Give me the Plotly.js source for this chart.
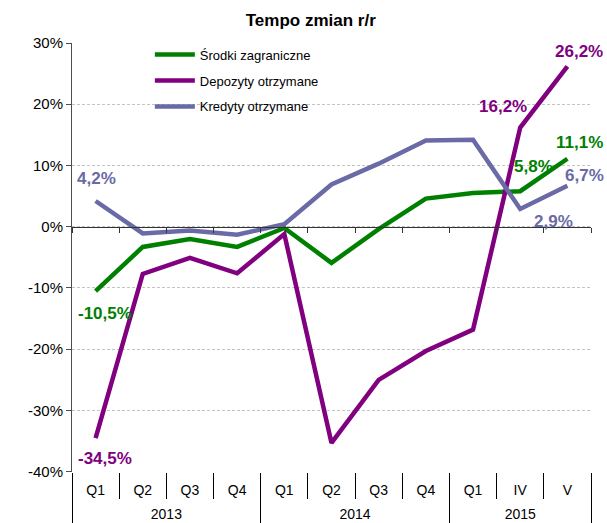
<!DOCTYPE html>
<html>
<head>
<meta charset="utf-8">
<script src="https://cdn.plot.ly/plotly-3.0.1.min.js"></script>
<style>html,body{margin:0;padding:0;background:#fff;}#chart{width:607px;height:523px;}</style>
</head>
<body>
<div id="chart"></div>
<script>
// ---- data ----
const years = ['2013','2013','2013','2013','2014','2014','2014','2014','2015','2015','2015'];
const periods = ['Q1','Q2','Q3','Q4','Q1','Q2','Q3','Q4','Q1','IV','V'];
const seriesNames = ['Środki zagraniczne', 'Depozyty otrzymane', 'Kredyty otrzymane'];
const srodki   = [-10.5, -3.3, -2.0, -3.3, -0.2, -5.9, -0.4, 4.6, 5.5, 5.8, 11.1];
const depozyty = [-34.5, -7.7, -5.1, -7.6, -1.2, -35.3, -25.0, -20.3, -16.8, 16.2, 26.2];
const kredyty  = [4.2, -1.1, -0.6, -1.3, 0.4, 6.9, 10.3, 14.1, 14.2, 2.9, 6.7];
const yTickVals = [-40, -30, -20, -10, 0, 10, 20, 30];
const yTickText = ['-40%', '-30%', '-20%', '-10%', '0%', '10%', '20%', '30%'];

// ---- style ----
const colors = ['#008000', '#800080', '#6a6aa6'];
const FONT = 'Liberation Sans, Arial, sans-serif';
const values = [srodki, depozyty, kredyty];

// labelled points: [series, point index, xshift, yshift]
const labelSpecs = [
  [0, 0, 9, -22], [1, 0, 9, -20], [2, 0, 1, 23],
  [1, 9, -17, 21], [1, 10, 12, 15],
  [0, 9, 13, 25], [0, 10, 12, 16],
  [2, 9, 33, -13], [2, 10, 17, 10]
];

const traces = values.map((v, s) => ({
  type: 'scatter', mode: 'lines',
  x: [years, periods], y: v,
  name: seriesNames[s], legendgroup: 'g' + s,
  line: {color: colors[s], width: 4.5},
  hoverinfo: 'skip'
}));
// empty helper traces so that the decorative overlay axes get drawn
['x2', 'x3', 'x4', 'x5', 'x6'].forEach(ax => traces.push({
  type: 'scatter', mode: 'none', x: [], y: [], xaxis: ax, yaxis: 'y',
  showlegend: false, hoverinfo: 'skip'
}));

const n = periods.length;
const boundaries = [];
for (let i = 0; i <= n; i++) boundaries.push(i - 0.5);
const periodPos = periods.map((_, i) => i);
// year groups derived from the years array
const yearNames = [], yearSpans = [], yearBounds = [-0.5];
years.forEach((y, i) => {
  if (i === 0 || years[i - 1] !== y) { yearNames.push(y); yearSpans.push([i, i]); }
  else yearSpans[yearSpans.length - 1][1] = i;
  if (i === n - 1 || years[i + 1] !== y) yearBounds.push(i + 0.5);
});
const yearMid = yearSpans.map(([a, b]) => (a + b) / 2);

const fmt = v => v.toFixed(1).replace('.', ',') + '%';
const annotations = labelSpecs.map(([s, i, dx, dy]) => ({
  x: i, y: values[s][i], xref: 'x', yref: 'y',
  text: '<b>' + fmt(values[s][i]) + '</b>',
  showarrow: false, xshift: dx, yshift: dy,
  xanchor: 'center', yanchor: 'middle',
  font: {family: FONT, size: 17, color: colors[s]}
}));

const H = 523, T = 43, plotBottom = 471.7;
const d0 = (H - plotBottom) / (H - T);
const zeroPos = d0 + (1 - d0) * 40 / 70;

function overlay(extra) {
  return Object.assign({
    overlaying: 'x', anchor: 'free', side: 'bottom', type: 'linear', range: [-0.5, n - 0.5],
    showgrid: false, zeroline: false, showline: false, tickmode: 'array', fixedrange: true
  }, extra);
}

const layout = {
  width: 607, height: 523,
  margin: {l: 72, r: 16, t: T, b: 0, pad: 0},
  paper_bgcolor: '#fff', plot_bgcolor: '#fff',
  font: {family: FONT, color: '#000'},
  title: {text: '<b>Tempo zmian r/r</b>', font: {family: FONT, size: 17, color: '#000'},
          x: 0.512, xref: 'container', xanchor: 'center', y: 0.962, yref: 'container', yanchor: 'middle'},
  showlegend: true,
  legend: {x: 0.150, y: 1.007, xanchor: 'left', yanchor: 'top', bgcolor: 'rgba(0,0,0,0)',
           font: {family: FONT, size: 13, color: '#000'}, traceorder: 'grouped', tracegroupgap: 6,
           itemwidth: 40},
  xaxis: {
    type: 'multicategory', range: [-0.5, n - 0.5],
    showgrid: false, zeroline: false, showline: false,
    ticks: '', showticklabels: false
  },
  // zero line with small tick marks
  xaxis2: overlay({
    position: zeroPos, tickvals: boundaries, showticklabels: false,
    ticks: 'outside', ticklen: 5, tickcolor: '#333', tickwidth: 1,
    showline: true, linecolor: '#333', linewidth: 1
  }),
  // boundary ticks between periods
  xaxis3: overlay({
    position: d0, tickvals: boundaries, showticklabels: false,
    ticks: 'outside', ticklen: 26, tickcolor: '#000', tickwidth: 1
  }),
  // period labels
  xaxis4: overlay({
    position: d0, tickvals: periodPos, ticktext: periods, ticks: '', ticklabelstandoff: 8,
    tickfont: {family: FONT, size: 14, color: '#000'}
  }),
  // year labels
  xaxis5: overlay({
    position: d0, tickvals: yearMid, ticktext: yearNames, ticks: '', ticklabelstandoff: 32,
    tickfont: {family: FONT, size: 14, color: '#000'}
  }),
  // year dividers
  xaxis6: overlay({
    position: d0, tickvals: yearBounds, showticklabels: false,
    ticks: 'outside', ticklen: 60, tickcolor: '#000', tickwidth: 1
  }),
  yaxis: {
    domain: [d0, 1],
    range: [-40, 30], tickmode: 'array', tickvals: yTickVals, ticktext: yTickText,
    tickfont: {family: FONT, size: 15, color: '#000'},
    ticks: 'outside', ticklen: 5, tickcolor: '#4d4d4d',
    showline: true, linecolor: '#4d4d4d', linewidth: 1,
    showgrid: true, gridcolor: '#c4c4c4', griddash: '3px,2px', gridwidth: 1,
    zeroline: false
  },
  annotations: annotations
};

Plotly.newPlot('chart', traces, layout, {displayModeBar: false, staticPlot: true});
</script>
</body>
</html>
